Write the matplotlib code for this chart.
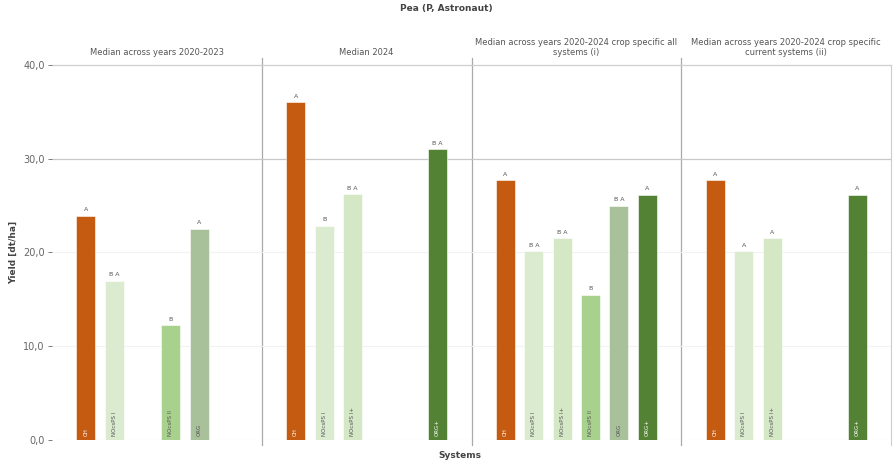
import matplotlib.pyplot as plt
import numpy as np

# systems (x slots) and colours
systems = ['CH', 'NOcsPS I', 'NOcsPS I+', 'NOcsPS II', 'ORG', 'ORG+']
colors = ['#C55A11', '#DAEBCF', '#D5E8C6', '#A9D18E', '#A9C19A', '#548235']

panel_titles = ['Median across years 2020-2023',
                'Median 2024',
                'Median across years 2020-2024 crop specific all\nsystems (i)',
                'Median across years 2020-2024 crop specific\ncurrent systems (ii)']

# yield values per panel (None = system not present)
vals_2020_2023 = [23.9, 17.0, None, 12.2, 22.5, None]
vals_2024 = [36.0, 22.8, 26.2, None, None, 31.0]
vals_all = [27.7, 20.1, 21.5, 15.5, 25.0, 26.1]
vals_current = [27.7, 20.1, 21.5, None, None, 26.1]

let_2020_2023 = ['A', 'B A', '', 'B', 'A', '']
let_2024 = ['A', 'B', 'B A', '', '', 'B A']
let_all = ['A', 'B A', 'B A', 'B', 'B A', 'A']
let_current = ['A', 'A', 'A', '', '', 'A']

values = [vals_2020_2023, vals_2024, vals_all, vals_current]
letters = [let_2020_2023, let_2024, let_all, let_current]

fig, axes = plt.subplots(1, 4, figsize=(8.93, 4.61), dpi=100, sharey=True)
fig.subplots_adjust(left=0.058, right=0.998, bottom=0.046, top=0.859, wspace=0)

x = np.arange(len(systems))
for i, ax in enumerate(axes):
    ax.patch.set_visible(False)
    ax.set_xlim(-1.2, 6.2)
    ax.set_ylim(0, 40)
    # gridlines
    ax.axhline(10, color='#f2f2f2', lw=0.8, zorder=0)
    ax.axhline(20, color='#f2f2f2', lw=0.8, zorder=0)
    ax.axhline(30, color='#c8c8c8', lw=0.9, zorder=0)
    ax.axhline(40, color='#cfcfcf', lw=0.9, zorder=0, clip_on=False)
    ax.axhline(0, color='#e6e6e6', lw=0.8, zorder=0)
    for j, v in enumerate(values[i]):
        if v is None:
            continue
        ax.bar(x[j], v, width=0.67, color=colors[j], edgecolor='white', linewidth=0.4, zorder=2)
        ax.text(x[j], v + 0.4, letters[i][j], ha='center', va='bottom', fontsize=4.5, color='#555555')
        tcol = 'white' if j in (0, 5) else '#555555'
        ax.text(x[j], 0.4, systems[j], rotation=90, ha='center', va='bottom', fontsize=4,
                color=tcol, zorder=3)
    ax.set_title(panel_titles[i], fontsize=6, color='#555555', pad=7)
    for s in ax.spines.values():
        s.set_visible(False)
    ax.set_xticks([])
    if i < 3:
        ax.axvline(6.2, ymin=-0.015, ymax=1.02, color='#aaaaaa', lw=0.9, clip_on=False, zorder=1)
    else:
        ax.axvline(6.2, ymin=-0.015, ymax=1.0, color='#cccccc', lw=0.8, clip_on=False, zorder=1)

axes[0].set_yticks([0, 10, 20, 30, 40])
axes[0].set_yticklabels(['0,0', '10,0', '20,0', '30,0', '40,0'])
axes[0].tick_params(axis='y', labelsize=7, colors='#666666', length=3, width=0.6, pad=2)
for ax in axes[1:]:
    ax.tick_params(axis='y', left=False)
axes[0].set_ylabel('Yield [dt/ha]', fontsize=6.5, fontweight='bold', color='#444444', labelpad=4)

fig.text(0.5, 0.982, 'Pea (P, Astronaut)', ha='center', va='center', fontsize=6.5,
         fontweight='bold', color='#444444')
fig.text(0.515, 0.013, 'Systems', ha='center', va='center', fontsize=6.5,
         fontweight='bold', color='#444444')

plt.savefig('out.png', dpi=100)
